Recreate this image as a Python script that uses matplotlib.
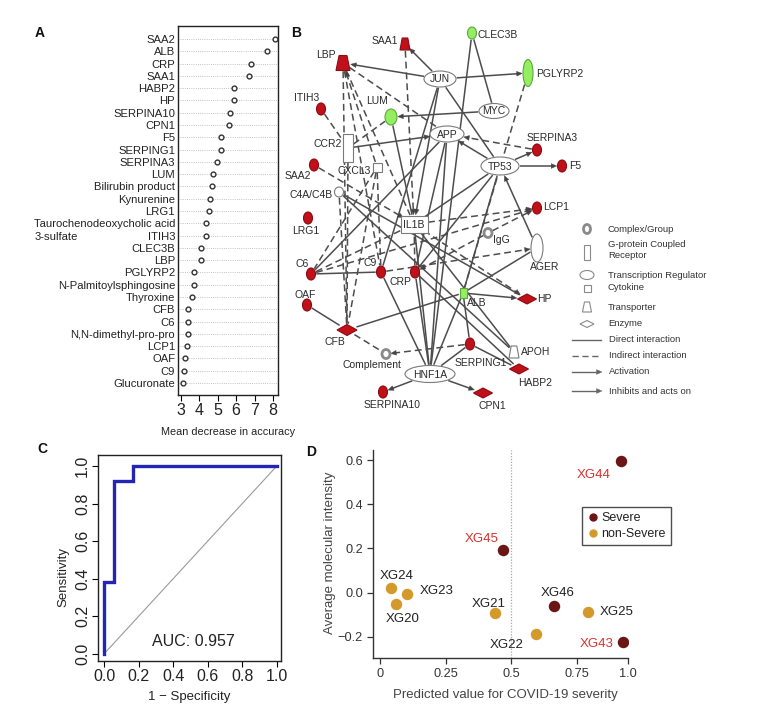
import matplotlib
matplotlib.use('Agg')
import matplotlib.pyplot as plt
import matplotlib.transforms as mtransforms
from matplotlib.patches import Ellipse, Rectangle, Polygon
from matplotlib.lines import Line2D
import numpy as np

plt.rcParams['font.family'] = ['Liberation Sans', 'DejaVu Sans']

# ---------------- DATA ----------------
# Panel A: random forest importance
features = ['SAA2', 'ALB', 'CRP', 'SAA1', 'HABP2', 'HP', 'SERPINA10', 'CPN1', 'F5',
            'SERPING1', 'SERPINA3', 'LUM', 'Bilirubin product', 'Kynurenine', 'LRG1',
            'Taurochenodeoxycholic acid\n3-sulfate', 'ITIH3', 'CLEC3B', 'LBP', 'PGLYRP2',
            'N-Palmitoylsphingosine', 'Thyroxine', 'CFB', 'C6', 'N,N-dimethyl-pro-pro',
            'LCP1', 'OAF', 'C9', 'Glucuronate']
importance = [8.10, 7.66, 6.82, 6.71, 5.90, 5.90, 5.66, 5.64, 5.20,
              5.20, 4.94, 4.76, 4.71, 4.56, 4.54,
              4.35, 4.35, 4.12, 4.10, 3.72,
              3.70, 3.59, 3.41, 3.40, 3.39,
              3.32, 3.21, 3.20, 3.12]
a_ticks = [3, 4, 5, 6, 7, 8]

# Panel B: network
node_names = ['SAA1', 'LBP', 'CLEC3B', 'PGLYRP2', 'JUN', 'MYC', 'APP', 'TP53', 'ITIH3', 'LUM',
              'CCR2', 'SERPINA3', 'F5', 'SAA2', 'CXCL3', 'C4A/C4B', 'LCP1', 'LRG1', 'IL1B',
              'IgG', 'AGER', 'C6', 'C9', 'CRP', 'ALB', 'HP', 'OAF', 'CFB', 'SERPING1', 'APOH',
              'Complement', 'HNF1A', 'HABP2', 'SERPINA10', 'CPN1']
node_kind = {'SAA1': 'transporter', 'LBP': 'transporter', 'CLEC3B': 'other', 'PGLYRP2': 'other',
             'JUN': 'tr', 'MYC': 'tr', 'APP': 'tr', 'TP53': 'tr', 'ITIH3': 'other', 'LUM': 'other',
             'CCR2': 'gpcr', 'SERPINA3': 'other', 'F5': 'other', 'SAA2': 'other', 'CXCL3': 'cytokine',
             'C4A/C4B': 'other', 'LCP1': 'other', 'LRG1': 'other', 'IL1B': 'cytokine',
             'IgG': 'complex', 'AGER': 'tr', 'C6': 'other', 'C9': 'other', 'CRP': 'other',
             'ALB': 'cytokine', 'HP': 'enzyme', 'OAF': 'other', 'CFB': 'enzyme', 'SERPING1': 'other',
             'APOH': 'transporter', 'Complement': 'complex', 'HNF1A': 'tr', 'HABP2': 'enzyme',
             'SERPINA10': 'other', 'CPN1': 'enzyme'}
node_reg = {'SAA1': 'up', 'LBP': 'up', 'CLEC3B': 'down', 'PGLYRP2': 'down', 'ITIH3': 'up',
            'LUM': 'down', 'SERPINA3': 'up', 'F5': 'up', 'SAA2': 'up', 'LCP1': 'up', 'LRG1': 'up',
            'C6': 'up', 'C9': 'up', 'CRP': 'up', 'ALB': 'down', 'HP': 'up', 'OAF': 'up', 'CFB': 'up',
            'SERPING1': 'up', 'HABP2': 'up', 'SERPINA10': 'up', 'CPN1': 'up'}
# (source, target, relation, arrow)
edges = [
    ('JUN', 'LBP', 'direct', True), ('JUN', 'SAA1', 'direct', True), ('JUN', 'PGLYRP2', 'direct', True),
    ('MYC', 'LUM', 'direct', True), ('MYC', 'CLEC3B', 'direct', False), ('CLEC3B', 'HNF1A', 'direct', False),
    ('CCR2', 'APP', 'direct', True), ('TP53', 'SERPINA3', 'direct', True), ('TP53', 'F5', 'direct', True),
    ('TP53', 'APP', 'direct', True), ('JUN', 'IL1B', 'direct', True), ('JUN', 'C9', 'direct', False),
    ('JUN', 'TP53', 'direct', False), ('APP', 'CRP', 'direct', False), ('APP', 'HNF1A', 'direct', False),
    ('C4A/C4B', 'HP', 'direct', False), ('C4A/C4B', 'APOH', 'direct', False), ('C6', 'C9', 'direct', False),
    ('OAF', 'CFB', 'direct', False), ('CFB', 'ALB', 'direct', False), ('ALB', 'HP', 'direct', True),
    ('ALB', 'SERPING1', 'direct', False), ('ALB', 'AGER', 'direct', False), ('ALB', 'TP53', 'direct', False),
    ('CRP', 'TP53', 'direct', False), ('HNF1A', 'SERPINA10', 'direct', True), ('HNF1A', 'CPN1', 'direct', True),
    ('HNF1A', 'SERPING1', 'direct', False), ('SERPING1', 'HABP2', 'direct', False), ('HNF1A', 'CRP', 'direct', False),
    ('HNF1A', 'IL1B', 'direct', False), ('HNF1A', 'ALB', 'direct', False), ('HNF1A', 'C9', 'direct', False),
    ('AGER', 'TP53', 'direct', True), ('TP53', 'IL1B', 'direct', False), ('IL1B', 'APOH', 'direct', False),
    ('CRP', 'HABP2', 'direct', False), ('APP', 'C6', 'direct', False), ('LUM', 'IL1B', 'direct', False),
    ('LBP', 'CFB', 'indirect', False), ('LBP', 'C9', 'indirect', False), ('LBP', 'APP', 'indirect', False),
    ('CXCL3', 'LBP', 'indirect', True), ('LBP', 'IL1B', 'indirect', False), ('SAA1', 'IL1B', 'indirect', True),
    ('ITIH3', 'CCR2', 'indirect', False), ('CCR2', 'LUM', 'indirect', False), ('CCR2', 'CFB', 'indirect', False),
    ('SAA2', 'IL1B', 'indirect', True), ('CXCL3', 'C6', 'indirect', False), ('CXCL3', 'C9', 'indirect', False),
    ('CXCL3', 'CFB', 'indirect', False), ('C4A/C4B', 'CFB', 'indirect', False), ('SERPINA3', 'APP', 'indirect', True),
    ('PGLYRP2', 'ALB', 'indirect', False), ('IL1B', 'LCP1', 'indirect', True), ('IgG', 'LCP1', 'indirect', True),
    ('C9', 'AGER', 'indirect', True), ('IgG', 'CRP', 'indirect', True), ('IL1B', 'HP', 'indirect', True),
    ('CFB', 'Complement', 'indirect', False), ('SERPING1', 'Complement', 'indirect', True),
    ('C6', 'IL1B', 'indirect', False), ('CRP', 'IL1B', 'indirect', False), ('C6', 'LCP1', 'indirect', True),
]
legend_shapes = ['Complex/Group', 'G-protein Coupled\nReceptor', 'Transcription Regulator',
                 'Cytokine', 'Transporter', 'Enzyme']
legend_lines = ['Direct interaction', 'Indirect interaction', 'Activation', 'Inhibits and acts on']

# Panel C: ROC
fpr = [0.0, 0.0, 0.056, 0.056, 0.167, 0.167, 1.0]
tpr = [0.0, 0.385, 0.385, 0.923, 0.923, 1.0, 1.0]
auc_text = 'AUC: 0.957'

# Panel D
samples = ['XG44', 'XG45', 'XG46', 'XG43', 'XG24', 'XG23', 'XG20', 'XG21', 'XG22', 'XG25']
pred = [0.917, 0.467, 0.664, 0.925, 0.041, 0.102, 0.061, 0.437, 0.593, 0.792]
intensity = [0.597, 0.193, -0.061, -0.225, 0.022, -0.006, -0.053, -0.091, -0.186, -0.088]
group = ['Severe', 'Severe', 'Severe', 'Severe', 'non-Severe', 'non-Severe', 'non-Severe',
         'non-Severe', 'non-Severe', 'non-Severe']
highlight = ['XG44', 'XG45', 'XG43']
d_xtick_labels = ['0', '0.25', '0.5', '0.75', '1.0']
d_yticks = [-0.2, 0.0, 0.2, 0.4, 0.6]
d_ytick_labels = ['\u22120.2', '0.0', '0.2', '0.4', '0.6']

# ---------------- LAYOUT ----------------
W, H = 763, 723
fig = plt.figure(figsize=(W / 100, H / 100), dpi=100)


def px_axes(l, t, r, b):
    return fig.add_axes([l / W, 1 - b / H, (r - l) / W, (b - t) / H])


def fx(x):
    return x / W


def fy(y):
    return 1 - y / H


TXT = '#222222'

# ---------- Panel A ----------
axA = px_axes(178, 26, 278, 395)
n = len(features)
ypos = np.arange(n)[::-1]
for yv in ypos:
    axA.axhline(yv, color='#b0b0b0', lw=0.6, ls=(0, (1, 1.6)), zorder=1)
axA.scatter(importance, ypos, s=12, facecolors='white', edgecolors='#333333', linewidths=1.0, zorder=3)
axA.set_xlim(2.85, 8.27)
axA.set_ylim(-0.98, n - 1 + 1.06)
axA.set_xticks(a_ticks)
axA.set_xticklabels([str(t) for t in a_ticks], fontsize=11.5, color=TXT)
axA.set_yticks(ypos)
axA.set_yticklabels([f.split('\n')[0] for f in features], fontsize=8.1, color=TXT)
axA.tick_params(axis='y', length=0, pad=2)
axA.tick_params(axis='x', length=4, width=0.8, pad=1.5)
for s in axA.spines.values():
    s.set_linewidth(1.0)
    s.set_color('#222222')
trans = mtransforms.blended_transform_factory(fig.transFigure, axA.transData)
for i, f in enumerate(features):
    if '\n' in f:
        axA.text(fx(35), ypos[i] - 1.15, f.split('\n')[1], transform=trans, fontsize=8.1,
                 ha='left', va='center', color=TXT)
fig.text(fx(228), fy(432), 'Mean decrease in accuracy', fontsize=7.8, ha='center', va='center', color=TXT)

# ---------- Panel C ----------
axC = px_axes(98.3, 455, 280.7, 660.7)
axC.plot([0, 1], [0, 1], color='#9a9a9a', lw=0.8, zorder=1)
axC.plot(fpr, tpr, color='#2525b5', lw=2.4, zorder=2, solid_joinstyle='miter')
axC.set_xlim(-0.033, 1.023)
axC.set_ylim(-0.036, 1.059)
cticks = [0, 0.2, 0.4, 0.6, 0.8, 1.0]
axC.set_xticks(cticks)
axC.set_xticklabels(['%.1f' % t for t in cticks], fontsize=11.5, color=TXT)
axC.set_yticks(cticks)
axC.set_yticklabels(['%.1f' % t for t in cticks], fontsize=11.5, color=TXT, rotation=90, va='center')
axC.tick_params(length=4, width=0.8, pad=2)
for s in axC.spines.values():
    s.set_linewidth(1.0)
    s.set_color('#222222')
axC.text(0.52, 0.065, auc_text, fontsize=11.5, ha='center', va='center', color=TXT)
fig.text(fx(189), fy(697), '1 \u2212 Specificity', fontsize=9.5, ha='center', va='center', color=TXT)
fig.text(fx(63), fy(577), 'Sensitivity', fontsize=9.5, ha='center', va='center', rotation=90, color=TXT)

# ---------- Panel D ----------
axD = px_axes(372.7, 450, 628.3, 658.3)
axD.set_xlim(-0.028, 0.946)
axD.set_ylim(-0.298, 0.646)
axD.axvline(0.5, color='#a8a8a8', lw=0.9, ls=(0, (1, 1.3)), zorder=1)
col_sev = '#6b1515'
col_non = '#d39a2b'
offsets = {'XG44': (-27, -14), 'XG45': (-21, 11), 'XG46': (3, 13), 'XG43': (-26, -2),
           'XG24': (6, 12), 'XG23': (30, 3), 'XG20': (7, -15), 'XG21': (-6, 9),
           'XG22': (-29, -11), 'XG25': (29, 0)}
for gname, col in [('Severe', col_sev), ('non-Severe', col_non)]:
    xs = [p for p, g in zip(pred, group) if g == gname]
    ys = [v for v, g in zip(intensity, group) if g == gname]
    axD.scatter(xs, ys, s=68, color=col, linewidths=0, zorder=3)
for s_, x_, y_ in zip(samples, pred, intensity):
    c = '#d8322e' if s_ in highlight else '#222222'
    axD.annotate(s_, (x_, y_), xytext=offsets[s_], textcoords='offset pixels', fontsize=9.5,
                 ha='center', va='center', color=c, zorder=4)
axD.set_xticks([0, 0.25, 0.5, 0.75, 0.946])
axD.set_xticklabels(d_xtick_labels, fontsize=9.2, color='#333333')
axD.set_yticks(d_yticks)
axD.set_yticklabels(d_ytick_labels, fontsize=9.2, color='#333333')
axD.tick_params(length=4, width=0.9, pad=3, colors='#333333', labelcolor='#333333')
axD.spines['top'].set_visible(False)
axD.spines['right'].set_visible(False)
for s in ['left', 'bottom']:
    axD.spines[s].set_linewidth(1.0)
    axD.spines[s].set_color('#333333')
fig.text(fx(505), fy(695), 'Predicted value for COVID-19 severity', fontsize=9.5, ha='center',
         va='center', color='#444444')
fig.text(fx(330), fy(553), 'Average molecular intensity', fontsize=9.5, ha='center', va='center',
         rotation=90, color='#444444')
handles = [Line2D([], [], marker='o', ls='none', color=col_sev, markersize=5, label='Severe'),
           Line2D([], [], marker='o', ls='none', color=col_non, markersize=5, label='non-Severe')]
leg = axD.legend(handles=handles, loc='upper left', bbox_to_anchor=(fx(582), fy(507)),
                 bbox_transform=fig.transFigure, fontsize=9.0, frameon=True, fancybox=False,
                 edgecolor='#222222', handletextpad=0.15, borderpad=0.4, labelspacing=0.35,
                 handlelength=1.0, borderaxespad=0)
leg.get_frame().set_linewidth(1.0)
for t in leg.get_texts():
    t.set_color('#222222')

# ---------- Panel B (pixel coordinates overlay) ----------
axB = fig.add_axes([0, 0, 1, 1])
axB.set_xlim(0, W)
axB.set_ylim(H, 0)
axB.axis('off')

node_xy = {'SAA1': (405, 44), 'LBP': (343, 63), 'CLEC3B': (472, 33), 'PGLYRP2': (528, 73),
           'JUN': (440, 79), 'MYC': (494, 111), 'APP': (447, 134), 'TP53': (500, 166),
           'ITIH3': (321, 109), 'LUM': (391, 117), 'CCR2': (348, 148), 'SERPINA3': (537, 150),
           'F5': (562, 166), 'SAA2': (314, 165), 'CXCL3': (377, 167), 'C4A/C4B': (339, 192),
           'LCP1': (537, 208), 'LRG1': (308, 218), 'IL1B': (414, 224), 'IgG': (488, 233),
           'AGER': (537, 248), 'C6': (311, 274), 'C9': (381, 272), 'CRP': (415, 272),
           'ALB': (463, 293), 'HP': (527, 299), 'OAF': (307, 305), 'CFB': (347, 330),
           'SERPING1': (470, 344), 'APOH': (514, 352), 'Complement': (386, 354),
           'HNF1A': (430, 374), 'HABP2': (519, 369), 'SERPINA10': (383, 392), 'CPN1': (483, 393)}
node_size = {'other': (9, 12), 'transporter': (12, 13), 'enzyme': (19, 10), 'tr': (32, 16),
             'gpcr': (10, 28), 'cytokine': (9, 9), 'complex': (8, 9)}
size_override = {'LBP': (14, 15), 'SAA1': (10, 12), 'CLEC3B': (9, 12), 'PGLYRP2': (10, 27),
                 'LUM': (12, 16), 'MYC': (30, 15), 'APP': (34, 16), 'TP53': (38, 18),
                 'AGER': (12, 28), 'IL1B': (27, 17), 'HNF1A': (50, 17), 'ALB': (7, 10),
                 'C4A/C4B': (9, 10), 'CFB': (20, 11), 'APOH': (10, 12)}
label_off = {'SAA1': (-7, -3, 'right'), 'LBP': (-7, -8, 'right'), 'CLEC3B': (5, 2, 'left'),
             'PGLYRP2': (8, 1, 'left'), 'ITIH3': (-14, -11, 'center'), 'LUM': (-14, -16, 'center'),
             'CCR2': (-6, -4, 'right'), 'SERPINA3': (15, -12, 'center'), 'F5': (7, 0, 'left'),
             'SAA2': (-16, 11, 'center'), 'CXCL3': (-6, 4, 'right'), 'C4A/C4B': (-6, 3, 'right'),
             'LCP1': (6, -1, 'left'), 'LRG1': (-2, 13, 'center'), 'IgG': (5, 7, 'left'),
             'AGER': (8, 19, 'center'), 'C6': (-9, -10, 'center'), 'C9': (-11, -9, 'center'),
             'CRP': (-15, 10, 'center'), 'ALB': (4, 10, 'left'), 'HP': (10, 0, 'left'),
             'OAF': (-2, -10, 'center'), 'CFB': (-12, 12, 'center'), 'SERPING1': (11, 19, 'center'),
             'APOH': (7, 0, 'left'), 'Complement': (-14, 11, 'center'), 'HABP2': (16, 14, 'center'),
             'SERPINA10': (9, 13, 'center'), 'CPN1': (9, 13, 'center')}
RED, RED_E = '#c0111b', '#8c0a10'
GRN, GRN_E = '#93ee62', '#5ea63a'
WHT, WHT_E = 'white', '#7a7a7a'
EDGE = '#4d4d4d'


def nsize(name):
    return size_override.get(name, node_size[node_kind[name]])


def draw_shape(ax, kind, x, y, w, h, fc, ec, lw=0.8, z=5):
    if kind in ('other', 'tr'):
        p = Ellipse((x, y), w, h, facecolor=fc, edgecolor=ec, lw=lw, zorder=z)
    elif kind == 'complex':
        p = Ellipse((x, y), w, h, facecolor='white', edgecolor='#8a8a8a', lw=2.0, zorder=z)
    elif kind in ('gpcr', 'cytokine'):
        p = Rectangle((x - w / 2, y - h / 2), w, h, facecolor=fc, edgecolor=ec, lw=lw, zorder=z)
    elif kind == 'transporter':
        p = Polygon([(x - w * 0.28, y - h / 2), (x + w * 0.28, y - h / 2), (x + w / 2, y + h / 2),
                     (x - w / 2, y + h / 2)], closed=True, facecolor=fc, edgecolor=ec, lw=lw, zorder=z)
    else:
        p = Polygon([(x - w / 2, y), (x, y - h / 2), (x + w / 2, y), (x, y + h / 2)], closed=True,
                    facecolor=fc, edgecolor=ec, lw=lw, zorder=z)
    ax.add_patch(p)


def boundary(name, ux, uy):
    w, h = nsize(name)
    a, b = w / 2 + 0.8, h / 2 + 0.8
    return 1.0 / np.sqrt((ux / a) ** 2 + (uy / b) ** 2)


def arrow_head(ax, px, py, ux, uy, color='#444444', z=4):
    L, Wd = 5.5, 2.4
    bx, by = px - L * ux, py - L * uy
    nx, ny = -uy, ux
    ax.add_patch(Polygon([(px, py), (bx + Wd * nx, by + Wd * ny), (bx - Wd * nx, by - Wd * ny)],
                         closed=True, facecolor=color, edgecolor=color, lw=0.3, zorder=z))


for src, dst, rel, arr in edges:
    x0, y0 = node_xy[src]
    x1, y1 = node_xy[dst]
    d = np.hypot(x1 - x0, y1 - y0)
    ux, uy = (x1 - x0) / d, (y1 - y0) / d
    t0 = boundary(src, ux, uy)
    t1 = boundary(dst, -ux, -uy)
    sx, sy = x0 + ux * t0, y0 + uy * t0
    ex, ey = x1 - ux * t1, y1 - uy * t1
    ls = '-' if rel == 'direct' else (0, (4.5, 2.6))
    if arr:
        lx, ly = ex - ux * 4.5, ey - uy * 4.5
        axB.plot([sx, lx], [sy, ly], color=EDGE, lw=1.1, ls=ls, zorder=3, solid_capstyle='butt')
        arrow_head(axB, ex, ey, ux, uy)
    else:
        axB.plot([sx, ex], [sy, ey], color=EDGE, lw=1.1, ls=ls, zorder=3, solid_capstyle='butt')

for name in node_names:
    x, y = node_xy[name]
    w, h = nsize(name)
    reg = node_reg.get(name, 'none')
    fc, ec = {'up': (RED, RED_E), 'down': (GRN, GRN_E), 'none': (WHT, WHT_E)}[reg]
    kind = node_kind[name]
    draw_shape(axB, kind, x, y, w, h, fc, ec)
    if name in label_off:
        dx, dy, ha = label_off[name]
        axB.text(x + dx, y + dy, name, fontsize=7.5, ha=ha, va='center', color='#2a2a2a', zorder=6)
    else:
        axB.text(x, y + 0.5, name, fontsize=7.5, ha='center', va='center', color='#2a2a2a', zorder=6)

# legend of panel B
lx_icon, lx_text = 587, 608
leg_kinds = ['complex', 'gpcr', 'tr', 'cytokine', 'transporter', 'enzyme']
leg_icon_y = [229, 252, 275, 288, 307, 324]
leg_icon_size = [(7, 9), (6, 15), (14, 9), (7, 7), (9, 10), (14, 7)]
leg_text_y = [229, 250, 275, 288, 307, 324]
for k, iy, (iw, ih), lab, ty in zip(leg_kinds, leg_icon_y, leg_icon_size, legend_shapes, leg_text_y):
    draw_shape(axB, k, lx_icon, iy, iw, ih, 'white', '#8a8a8a', lw=0.8)
    axB.text(lx_text, ty, lab, fontsize=6.8, ha='left', va='center', color='#333333',
             linespacing=1.25)
line_y = [340, 356, 372, 391]
for i, (lab, ly) in enumerate(zip(legend_lines, line_y)):
    ls = (0, (4.5, 2.6)) if i == 1 else '-'
    end = 601 if i < 2 else 597
    axB.plot([572, end], [ly, ly], color='#666666', lw=1.0, ls=ls)
    if i >= 2:
        arrow_head(axB, 602, ly, 1.0, 0.0, color='#666666')
    axB.text(609, ly, lab, fontsize=6.8, ha='left', va='center', color='#333333')

# panel letters
for letter, x, y in [('A', 40, 33), ('B', 296, 33), ('C', 42, 449), ('D', 311, 452)]:
    axB.text(x, y, letter, fontsize=10, fontweight='bold', ha='center', va='center', color='#111111')

fig.savefig('out.png', dpi=100)
